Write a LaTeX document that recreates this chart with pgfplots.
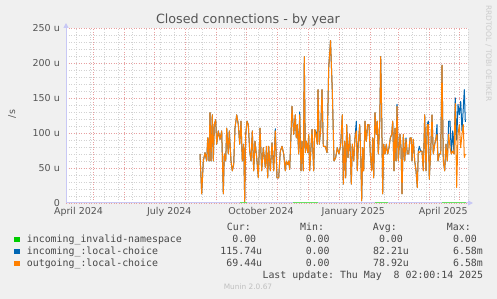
\documentclass[border=0pt]{standalone}
\usepackage{fontspec}
\setmainfont{DejaVu Sans}
\setmonofont{DejaVu Sans Mono}
\usepackage{pgfplots}
\usepackage{pgfplotstable}
\pgfplotsset{compat=1.18}
\usetikzlibrary{arrows.meta}
\definecolor{bg}{HTML}{F0F0F0}
\definecolor{mgrid}{HTML}{E8A0A0}
\definecolor{ngrid}{HTML}{D2D2D2}
\definecolor{axcol}{HTML}{C8C8F5}
\definecolor{cgreen}{HTML}{00CC00}
\definecolor{cblue}{HTML}{0066B3}
\definecolor{corange}{HTML}{FF8000}
\definecolor{txt}{HTML}{555555}
\definecolor{ltxt}{HTML}{484848}

\pgfplotstableread{
x o b
134.0 70 70
135.7 13 13
137.3 60 60
139.0 72 72
140.7 60 60
141.7 93 93
143.0 60 60
144.0 129 129
145.0 60 60
146.3 126 126
147.3 60 60
148.3 112 112
149.7 119 119
150.7 84 84
152.3 103 103
154.0 91 91
155.7 103 103
157.3 13 13
158.3 70 70
159.7 60 60
160.7 107 107
162.3 70 70
163.3 103 103
165.0 60 60
166.3 46 46
167.7 55 55
169.0 107 107
170.7 126 126
172.3 112 112
173.7 84 84
175.0 117 117
176.3 60 60
177.7 84 84
178.7 2 2
179.7 98 98
181.0 117 117
182.3 112 112
183.7 74 74
185.0 60 60
186.3 103 103
187.7 46 46
189.0 88 88
190.7 65 65
192.3 36 36
194.0 107 107
195.7 46 46
197.3 79 79
199.3 51 51
200.5 81 81
201.7 36 36
202.7 81 81
204.3 46 46
206.0 86 86
207.7 46 46
209.3 103 106
211.0 36 36
212.7 36 36
214.3 74 74
216.0 81 81
217.7 70 70
219.3 46 46
220.3 60 60
221.7 55 55
222.7 60 60
223.7 48 48
225.0 98 98
226.0 138 138
227.7 98 98
229.3 126 126
230.3 93 93
231.3 112 112
232.7 70 70
233.7 126 130
235.0 46 46
236.0 88 88
237.3 46 46
238.3 209 209
239.3 72 72
240.3 88 88
241.7 72 72
242.7 98 98
243.7 46 46
244.7 72 72
246.0 105 105
247.7 46 46
248.7 105 105
250.0 98 101
251.3 84 84
252.0 162 162
253.3 84 84
254.7 105 105
256.0 162 162
257.3 81 81
259.3 81 81
261.0 72 72
262.7 193 193
264.5 232 232
266.3 160 160
268.0 60 60
269.7 65 65
271.3 79 79
273.0 70 70
274.7 84 84
276.3 126 126
277.3 27 27
278.7 88 88
279.7 36 36
280.7 112 112
282.0 65 65
283.7 98 98
285.3 27 27
286.3 84 84
287.7 60 60
289.0 93 93
290.3 103 117
291.3 46 46
292.3 84 84
293.7 112 112
294.7 70 70
295.7 3 3
296.7 79 79
297.7 46 46
299.0 117 117
300.3 88 88
301.7 112 112
303.0 112 112
304.3 70 70
305.7 46 46
306.7 93 93
307.7 36 36
309.0 129 129
310.3 98 98
311.3 117 117
312.3 70 70
313.7 112 112
314.7 209 209
315.7 126 126
316.7 13 13
317.7 84 84
319.0 70 70
320.3 84 84
321.7 70 70
323.0 79 79
324.3 93 93
325.7 98 98
326.7 117 117
328.0 46 46
329.0 107 107
330.0 60 60
331.0 138 141
332.3 60 60
334.0 98 98
335.0 79 79
336.0 13 13
337.3 98 98
338.7 60 60
340.0 91 93
341.3 70 70
342.7 70 70
344.0 93 93
345.3 93 93
346.0 60 60
347.3 91 91
348.7 60 60
350.0 46 46
351.3 22 22
352.3 74 74
353.3 72 81
354.7 74 74
356.0 74 74
357.3 46 46
358.7 126 126
360.0 46 46
361.3 112 112
362.3 112 117
363.3 34 34
364.7 74 74
366.0 126 126
367.3 70 70
368.7 84 84
370.0 93 93
371.0 98 112
372.0 60 60
373.3 70 70
374.7 70 70
376.0 197 197
377.3 60 60
378.7 46 46
380.0 84 84
381.3 60 60
382.7 98 117
384.0 79 117
385.3 70 70
386.7 74 103
388.0 70 70
389.3 142 150
390.7 22 90
392.0 98 141
393.3 112 126
394.7 79 145
396.0 98 103
397.3 112 136
398.3 65 162
399.3 70 116
}\yeardata

\begin{document}
\begin{tikzpicture}[x=1pt,y=1pt]
\fill[bg] (0,0) rectangle (497,299);
\useasboundingbox (0,0) rectangle (497,299);
\begin{axis}[
  at={(66pt,96pt)}, anchor=south west,
  scale only axis, width=402pt, height=175pt,
  xmin=0, xmax=402, ymin=0, ymax=250,
  axis background/.style={fill=white},
  axis x line=bottom, axis y line=left,
  x axis line style={axcol, line width=1pt, -{Triangle[length=5pt,width=5pt]}, shorten >=-5pt},
  y axis line style={axcol, line width=1pt, -{Triangle[length=5pt,width=5pt]}, shorten >=-5pt},
  major tick length=0pt, minor tick length=0pt,
  xtick={27.3,58.3,88.3,119.3,150,180,211.3,242.3,273.3,304,332.3,363.3,393.3},
  xticklabels={,,,,,,,,,,,,},
  minor xtick={10,24,...,402},
  extra x ticks={12.5,103.3,195,287.3,377.3},
  extra x tick labels={April 2024,July 2024,October 2024,January 2025,April 2025},
  extra x tick style={grid=none, xticklabel style={anchor=base, inner sep=0pt, yshift=-12pt, text=txt, font=\fontsize{9.5}{10}\selectfont}},
  ytick={0,50,...,250},
  yticklabels={0,50 u,100 u,150 u,200 u,250 u},
  minor ytick={10,20,...,240},
  yticklabel style={anchor=east, inner sep=0pt, xshift=-6pt, text=txt, font=\fontsize{9.5}{10}\selectfont},
  xmajorgrids, xminorgrids, ymajorgrids, yminorgrids,
  major grid style={mgrid, dash pattern=on 1pt off 1.5pt, line width=0.7pt},
  minor grid style={ngrid, dash pattern=on 1pt off 1.5pt, line width=0.7pt},
  unbounded coords=jump,
]
\addplot[cgreen!60, line width=1pt] coordinates {(174,0)(181,0)(182,nan)(227,0)(252,0)(253,nan)(309,0)(322,0)(323,nan)(376,0)(400,0)};
\addplot[cblue, line width=1pt, line join=round] table[x=x,y=b]{\yeardata};
\addplot[corange, line width=1pt, line join=round] table[x=x,y=o]{\yeardata};
\end{axis}

\node[anchor=base, text=txt, font=\fontsize{12.7}{14}\selectfont] at (248,275) {Closed connections - by year};
\node[rotate=90, text=txt, font=\fontsize{9.5}{10}\selectfont] at (12,185) {/s};
\node[rotate=-90, text=black!20, font=\fontsize{7.5}{8}\selectfont] at (488.5,245.6) {RRDTOOL / TOBI OETIKER};

\begin{scope}[every node/.style={inner sep=0pt, text=ltxt, font=\fontsize{9.9}{11}\ttfamily}]
\node[anchor=base west] at (226.7,68.3) {Cur:};
\node[anchor=base west] at (300,68.3) {Min:};
\node[anchor=base west] at (372.7,68.3) {Avg:};
\node[anchor=base west] at (446.7,68.3) {Max:};

\fill[cgreen] (14,56.8) rectangle (19.5,62.3);
\fill[cblue] (14,44.8) rectangle (19.5,50.3);
\fill[corange] (14,32.8) rectangle (19.5,38.3);

\node[anchor=base west] at (26.7,56.3) {incoming\_invalid-namespace};
\node[anchor=base west] at (26.7,44.3) {incoming\_:local-choice};
\node[anchor=base west] at (26.7,32.3) {outgoing\_:local-choice};

\node[anchor=base east] at (256.4,56.3) {0.00};
\node[anchor=base east] at (262.4,44.3) {115.74u};
\node[anchor=base east] at (262.4,32.3) {69.44u};

\node[anchor=base east] at (329.8,56.3) {0.00};
\node[anchor=base east] at (329.8,44.3) {0.00};
\node[anchor=base east] at (329.8,32.3) {0.00};

\node[anchor=base east] at (403.1,56.3) {0.00};
\node[anchor=base east] at (409.1,44.3) {82.21u};
\node[anchor=base east] at (409.1,32.3) {78.92u};

\node[anchor=base east] at (477.1,56.3) {0.00};
\node[anchor=base east] at (483.1,44.3) {6.58m};
\node[anchor=base east] at (483.1,32.3) {6.58m};

\node[anchor=base east] at (483.3,20.3) {Last update: Thu May\ \ 8 02:00:14 2025};
\end{scope}
\node[anchor=base, inner sep=0pt, text=black!25, font=\fontsize{7.4}{8}\selectfont] at (248,9) {Munin 2.0.67};
\end{tikzpicture}
\end{document}
